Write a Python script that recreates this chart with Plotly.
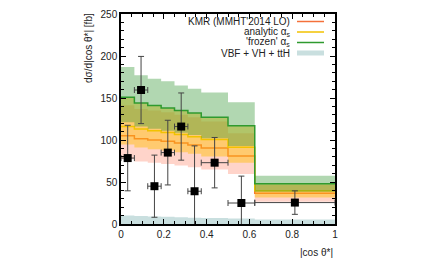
import plotly.graph_objects as go

# ---- data ----
bin_edges = [0, 0.0625, 0.125, 0.1875, 0.25, 0.3125, 0.375, 0.5, 0.625, 1.0]

kmr_central = [105, 101.5, 100, 98.5, 96.5, 94, 90.5, 81, 36.5]
kmr_low     = [77, 74.5, 73, 71.5, 69.5, 67.5, 65, 59.5, 26.5]
kmr_high    = [141.5, 137, 135, 133, 130, 127, 122, 108, 46.5]

analytic_central = [116, 113, 111, 109, 106.5, 104, 100.5, 91.5, 39.5]
analytic_low     = [94.5, 91, 89, 87.5, 85.5, 83.5, 80.5, 73, 31.5]
analytic_high    = [151, 144, 141, 138, 135, 132, 127, 117, 48]

frozen_central = [151, 144, 141, 138, 135, 132, 127, 117, 48]
frozen_low     = [121, 116, 113.5, 111, 108.5, 106, 102, 93, 38.5]
frozen_high    = [187, 177, 173, 170, 165, 161, 156.5, 145, 57.3]

vbf_high = [10, 9.5, 9, 8.5, 8, 7.5, 7, 6.5, 5.5]

data_x    = [0.03125, 0.09375, 0.15625, 0.21875, 0.28125, 0.34375, 0.4375, 0.5625, 0.8125]
data_xerr = [0.03125, 0.03125, 0.03125, 0.03125, 0.03125, 0.03125, 0.0625, 0.0625, 0.1875]
data_y    = [78.5, 159.5, 45, 85, 116, 39, 73, 25, 25.5]
data_yerr = [39, 40, 37, 38.5, 40, 54, 30, 32, 14]

legend_labels = ["KMR (MMHT'2014 LO)", "analytic α<sub>s</sub>", "'frozen' α<sub>s</sub>", "VBF + VH + ttH"]

# ---- styles ----
KMR_LINE = "#f4703a"
KMR_FILL = "rgba(255,120,90,0.32)"
AN_LINE = "#f2c200"
AN_FILL = "rgba(255,190,0,0.45)"
FR_LINE = "#2f9a2f"
FR_FILL = "rgba(50,150,50,0.38)"
VBF_FILL = "#c9dfdf"
FONT = "Liberation Sans, Arial, sans-serif"

# page body has an 8px default margin; compensate so the plot sits where the reference does
OFF = 8
TOP_PAGE = 14          # plot-area top in page pixels (keeps the "250" label inside the figure)
BOTTOM_PAGE = 224      # plot-area bottom in page pixels
PL, PT, PW = 121 - OFF, TOP_PAGE - OFF, 214
PH = BOTTOM_PAGE - TOP_PAGE
FIG_W, FIG_H = 431 - OFF, 258 - OFF


def steps(vals):
    return list(vals) + [vals[-1]]


fig = go.Figure()


def band(low, high, fill):
    fig.add_trace(go.Scatter(x=bin_edges, y=steps(low), mode="lines", line=dict(width=0, shape="hv"),
                             hoverinfo="skip", showlegend=False))
    fig.add_trace(go.Scatter(x=bin_edges, y=steps(high), mode="lines", line=dict(width=0, shape="hv"),
                             fill="tonexty", fillcolor=fill, hoverinfo="skip", showlegend=False))


def central(vals, color):
    fig.add_trace(go.Scatter(x=bin_edges, y=steps(vals), mode="lines",
                             line=dict(color=color, width=1.5, shape="hv"), showlegend=False))


# VBF + VH + ttH band
fig.add_trace(go.Scatter(x=bin_edges, y=[0] * len(bin_edges), mode="lines", line=dict(width=0, shape="hv"),
                         showlegend=False, hoverinfo="skip"))
fig.add_trace(go.Scatter(x=bin_edges, y=steps(vbf_high), mode="lines", line=dict(width=0, shape="hv"),
                         fill="tonexty", fillcolor=VBF_FILL, showlegend=False, hoverinfo="skip"))

band(kmr_low, kmr_high, KMR_FILL)
central(kmr_central, KMR_LINE)
band(analytic_low, analytic_high, AN_FILL)
central(analytic_central, AN_LINE)
band(frozen_low, frozen_high, FR_FILL)
central(frozen_central, FR_LINE)

# data points
fig.add_trace(go.Scatter(
    x=data_x, y=data_y, mode="markers",
    marker=dict(symbol="square", size=8, color="black"),
    error_x=dict(type="data", array=data_xerr, color="#444", thickness=1, width=3),
    error_y=dict(type="data", array=data_yerr, color="#444", thickness=1, width=3),
    showlegend=False,
))

# ---- legend (text left, sample right, gnuplot style); positions given in reference pixels ----
def px_x(px):
    return (px - 121) / PW


def px_y(py):
    return (BOTTOM_PAGE - py) / PH


legend_rows_px = [21.5, 32, 42.5, 53]
line_colors = [KMR_LINE, AN_LINE, FR_LINE, None]
annotations = []
shapes = []
for lab, ypx, col in zip(legend_labels, legend_rows_px, line_colors):
    yp = px_y(ypx)
    annotations.append(dict(xref="paper", yref="paper", x=px_x(292), y=yp, text=lab,
                            showarrow=False, xanchor="right", yanchor="middle",
                            font=dict(family=FONT, size=10, color="#222")))
    if col is not None:
        shapes.append(dict(type="line", xref="paper", yref="paper",
                           x0=px_x(297), x1=px_x(324), y0=yp, y1=yp,
                           line=dict(color=col, width=1.5)))
    else:
        shapes.append(dict(type="rect", xref="paper", yref="paper",
                           x0=px_x(297), x1=px_x(324),
                           y0=yp - 2.5 / PH, y1=yp + 2.5 / PH,
                           fillcolor=VBF_FILL, line=dict(width=0)))

# axis titles
annotations.append(dict(xref="paper", yref="paper", x=1.0, y=px_y(252), text="|cos θ*|",
                        showarrow=False, xanchor="right", yanchor="middle",
                        font=dict(family=FONT, size=10, color="#222")))
annotations.append(dict(xref="paper", yref="paper", x=px_x(88), y=px_y(11), text="dσ/d|cos θ*| [fb]",
                        showarrow=False, xanchor="center", yanchor="top", textangle=-90,
                        font=dict(family=FONT, size=10, color="#222")))

axis_common = dict(showgrid=False, zeroline=False, showline=True, linecolor="black", linewidth=1.5,
                   mirror="allticks", ticks="inside", ticklen=5, tickcolor="black",
                   ticklabeloverflow="allow",
                   tickfont=dict(family=FONT, size=10, color="#222"))

fig.update_layout(
    width=FIG_W, height=FIG_H,
    margin=dict(l=PL, r=FIG_W - PL - PW, t=PT, b=FIG_H - PT - PH, autoexpand=False),
    paper_bgcolor="white", plot_bgcolor="white",
    xaxis=dict(range=[0, 1], tickvals=[0, 0.2, 0.4, 0.6, 0.8, 1], ticktext=["0", "0.2", "0.4", "0.6", "0.8", "1"],
               minor=dict(dtick=0.05, ticks="inside", ticklen=3, tickcolor="black"), **axis_common),
    yaxis=dict(range=[0, 250], dtick=50,
               minor=dict(dtick=10, ticks="inside", ticklen=3, tickcolor="black"), **axis_common),
    annotations=annotations, shapes=shapes,
    showlegend=False,
)

fig.write_html("out.html")
